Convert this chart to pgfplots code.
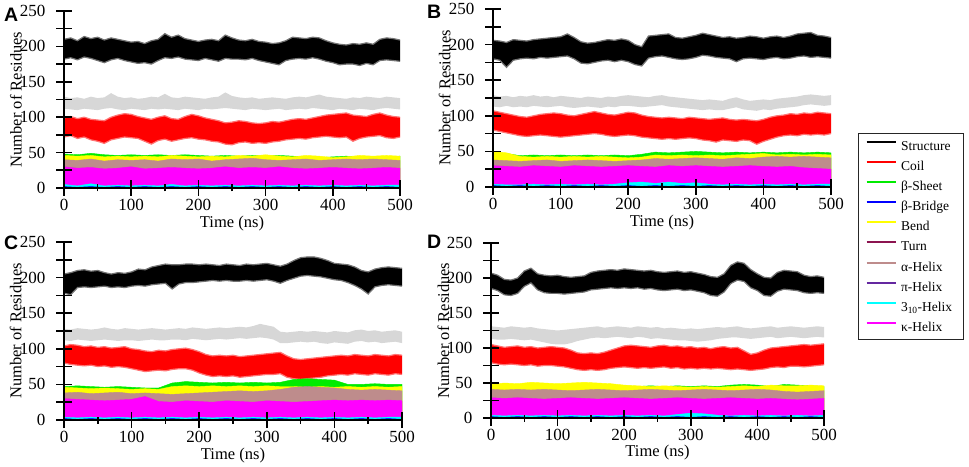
\documentclass[border=0pt]{standalone}
\usepackage{fontspec}
\setmainfont{Liberation Serif}
\newfontfamily\sansb{Liberation Sans}
\usepackage{pgfplots}
\usepackage{pgfplotstable}
\usepgfplotslibrary{fillbetween}
\pgfplotsset{compat=1.18}

\definecolor{colSheet}{RGB}{0,235,0}
\definecolor{colBend}{RGB}{255,255,0}
\definecolor{colTurn}{RGB}{140,20,80}
\definecolor{colAlpha}{RGB}{190,140,140}
\definecolor{colPi}{RGB}{100,40,160}
\definecolor{colCyan}{RGB}{0,255,255}
\definecolor{colKappa}{RGB}{255,0,255}
\definecolor{colGray}{RGB}{215,215,215}
\definecolor{colBlue}{RGB}{0,0,255}
\definecolor{colRed}{RGB}{255,0,0}

% big series: t, structure hi/lo, gray hi/lo, coil hi/lo
\pgfplotstableread{
t sh sl gh gl ch cl
0 210 182 129 112 99 72
10 212 184 127 111 101 74
20 208 181 128 110 98 70
30 214 185 126 112 100 72
40 211 183 129 111 97 68
50 213 180 127 110 96 66
60 209 177 128 112 95 63
70 212 181 134 113 100 68
80 210 183 129 111 103 70
90 208 180 127 110 105 72
100 206 178 128 112 104 71
110 207 176 126 111 101 70
120 204 177 127 110 99 66
130 208 175 129 112 97 62
140 210 180 128 111 100 67
150 218 184 133 112 102 69
160 213 183 128 111 98 66
170 216 185 127 110 97 68
180 211 182 129 112 101 70
190 209 181 128 111 104 71
200 207 180 127 110 102 69
210 209 183 126 112 99 68
220 210 181 128 111 97 66
230 208 179 129 112 95 65
240 216 183 135 113 92 62
250 212 182 130 112 93 61
260 209 182 128 111 95 64
270 208 181 127 110 94 65
280 210 183 128 112 92 63
290 207 180 126 111 91 64
300 206 178 127 110 92 63
310 204 176 128 111 94 65
320 205 174 127 112 93 66
330 208 180 126 110 95 68
340 213 182 128 111 97 69
350 212 183 129 112 98 70
360 211 182 128 111 97 69
370 213 184 130 113 99 71
380 212 182 132 112 101 72
390 208 179 129 111 103 73
400 205 177 128 110 104 72
410 203 174 127 112 105 71
420 202 175 126 111 106 72
430 204 175 128 110 103 66
440 203 173 127 112 102 70
450 205 176 129 111 101 72
460 203 174 128 110 104 73
470 210 180 127 112 106 74
480 212 181 129 113 103 71
490 211 180 128 112 101 70
500 209 179 127 111 100 72
}\tAbig
\pgfplotstableread{
t sheet bend ahel kap cyn brg
0 48 46 40 30 5 2
20 47 45 39 28 3 1
40 49 46 41 29 6 2
60 47 44 38 27 3 1
80 46 45 40 28 4 2
100 47 44 39 30 3 1
120 46 45 40 27 4 2
140 47 44 38 28 3 1
160 46 46 41 29 5 2
180 47 45 40 28 3 1
200 46 44 41 27 4 2
220 45 45 38 28 3 1
240 46 44 40 30 4 2
260 45 46 41 28 3 1
280 46 45 42 29 4 2
300 45 47 40 28 3 1
320 46 45 39 30 4 2
340 45 44 40 28 3 1
360 44 46 41 27 4 2
380 43 45 39 28 3 1
400 44 43 40 29 4 2
420 45 44 41 28 3 1
440 44 46 40 27 4 2
460 43 45 41 28 3 1
480 44 46 40 29 4 2
500 45 45 39 28 4 1
}\tAlow

\pgfplotstableread{
t sh sl gh gl ch cl
0 206 180 129 113 107 80
10 205 178 127 112 105 78
20 203 168 128 114 103 76
30 207 178 126 112 101 74
40 206 180 128 113 99 72
50 205 181 127 112 98 71
60 207 180 129 114 100 72
70 208 182 127 113 102 73
80 209 181 128 112 103 72
90 210 182 126 113 104 71
100 211 183 128 114 103 70
110 215 184 127 112 101 71
120 210 180 126 111 100 72
130 204 174 125 112 102 73
140 202 173 127 113 104 74
150 203 175 126 112 106 75
160 205 177 125 111 104 74
170 207 178 127 113 102 72
180 206 176 126 112 101 71
190 208 178 128 114 103 72
200 206 176 129 114 105 73
210 200 172 128 113 104 72
220 197 170 127 112 101 70
230 212 181 126 113 99 69
240 213 183 128 114 98 68
250 214 184 129 115 97 67
260 215 182 127 113 98 68
270 210 180 126 112 97 67
280 209 179 125 111 96 68
290 211 180 124 110 98 69
300 213 182 123 109 97 68
310 216 185 122 108 96 66
320 214 184 123 109 95 65
330 212 182 122 108 96 63
340 210 181 121 108 97 66
350 211 180 124 110 95 65
360 209 176 126 112 94 64
370 210 180 123 109 95 66
380 212 181 121 108 94 65
390 211 180 122 107 93 60
400 209 179 123 109 95 64
410 211 181 122 108 98 67
420 212 182 124 110 100 70
430 210 180 125 111 101 72
440 212 181 126 112 103 73
450 215 183 127 113 102 72
460 216 184 129 115 104 74
470 217 182 130 116 103 73
480 213 183 129 115 105 74
490 212 182 128 114 104 73
500 210 181 129 115 103 75
}\tBbig
\pgfplotstableread{
t sheet bend ahel kap cyn brg
0 48 50 38 30 4 2
20 47 48 37 29 3 1
40 44 43 36 28 3 2
60 45 42 37 30 4 1
80 44 43 38 29 3 2
100 45 42 36 28 4 1
120 44 43 37 30 3 2
140 45 42 38 29 4 1
160 44 43 37 28 3 2
180 45 42 36 29 4 1
200 44 41 37 30 6 2
220 46 42 38 29 7 1
240 49 45 40 28 5 2
260 48 44 39 30 7 1
280 49 45 40 29 5 2
300 50 44 41 30 6 1
320 49 45 40 29 4 2
340 48 44 39 28 3 1
360 49 45 41 29 4 2
380 48 46 40 30 3 1
400 49 47 42 29 4 2
420 48 45 43 28 3 1
440 49 46 42 29 4 2
460 48 45 43 27 3 1
480 49 46 42 26 4 2
500 48 45 41 25 4 1
}\tBlow

\pgfplotstableread{
t sh sl gh gl ch cl
0 205 178 128 112 104 80
10 207 176 127 111 106 78
20 210 186 129 113 105 77
30 211 187 128 112 103 76
40 209 186 127 111 104 77
50 210 187 128 112 102 75
60 207 188 130 113 103 76
70 205 186 128 112 101 74
80 207 187 127 111 102 75
90 206 186 129 112 103 74
100 208 188 128 112 100 72
110 212 189 127 111 99 70
120 211 188 128 112 97 68
130 215 190 129 113 96 69
140 217 191 128 112 98 70
150 219 192 127 112 97 69
160 218 184 128 113 99 71
170 218 191 129 113 100 72
180 219 193 128 112 101 72
190 219 193 130 114 99 70
200 218 194 129 113 96 66
210 219 195 128 112 92 63
220 218 196 129 113 90 61
230 217 195 130 114 91 62
240 219 196 129 113 90 61
250 218 195 130 114 91 62
260 217 195 131 115 89 60
270 219 196 130 114 90 61
280 218 195 132 115 91 62
290 219 196 135 116 92 63
300 220 197 133 115 93 64
310 218 195 131 113 94 64
320 216 192 124 108 95 65
330 219 196 123 108 90 60
340 224 199 124 109 86 58
350 228 202 125 110 85 57
360 229 203 124 109 86 58
370 229 202 125 110 87 59
380 227 201 124 108 88 60
390 224 199 123 107 89 62
400 220 197 125 109 90 63
410 219 196 124 108 91 64
420 218 193 123 107 90 63
430 215 189 126 110 92 65
440 210 184 127 111 91 64
450 208 177 125 109 90 63
460 212 187 126 110 92 65
470 214 189 124 108 91 64
480 215 190 125 109 90 63
490 214 189 126 110 92 65
500 213 188 124 108 91 64
}\tCbig
\pgfplotstableread{
t sheet bend ahel kap cyn brg
0 47 46 38 30 4 2
20 48 45 39 29 3 1
40 47 44 37 28 4 2
60 46 45 38 27 3 1
80 47 44 39 28 4 2
100 46 43 37 29 3 1
120 45 44 38 33 4 2
140 45 43 37 26 3 1
160 52 47 36 25 4 2
180 54 48 37 27 3 1
200 53 47 38 26 4 2
220 52 48 39 25 3 1
240 53 47 40 27 4 2
260 52 48 41 26 3 1
280 53 47 40 25 4 2
300 52 48 41 27 3 1
320 53 47 43 26 4 2
340 57 47 46 25 3 1
360 58 46 47 26 4 2
380 57 47 46 27 3 1
400 56 46 45 28 4 2
420 50 47 43 27 3 1
440 50 46 42 28 4 2
460 51 47 43 27 3 1
480 50 46 42 28 4 2
500 50 47 41 27 4 1
}\tClow

\pgfplotstableread{
t sh sl gh gl ch cl
0 207 185 131 113 105 79
10 204 182 130 112 103 77
20 198 176 129 112 101 76
30 197 175 131 113 102 77
40 200 178 130 112 103 76
50 210 188 129 111 101 75
60 214 193 130 112 102 76
70 206 183 128 110 100 74
80 204 179 127 108 101 75
90 203 178 126 106 102 75
100 204 178 125 105 101 74
110 202 177 126 105 100 73
120 201 178 127 107 97 71
130 202 179 128 110 93 69
140 203 180 129 112 92 68
150 208 183 130 114 93 69
160 210 184 131 115 92 68
170 211 185 129 114 94 69
180 212 186 130 115 97 71
190 211 185 131 116 100 72
200 213 186 130 115 103 73
210 212 185 129 114 104 72
220 211 186 131 116 103 71
230 210 184 130 115 102 72
240 211 185 129 113 101 71
250 209 183 130 114 103 72
260 208 182 128 113 104 73
270 209 183 129 112 102 71
280 210 184 128 111 103 72
290 208 182 127 111 101 70
300 209 183 128 110 102 71
310 207 181 127 109 100 70
320 205 179 128 110 101 71
330 202 175 129 111 99 70
340 201 174 130 113 101 71
350 206 180 129 114 102 70
360 218 192 130 115 100 69
370 223 197 131 115 101 70
380 221 195 129 114 96 69
390 212 186 128 113 91 68
400 206 182 129 114 93 69
410 201 175 130 115 97 70
420 200 174 131 116 100 72
430 208 181 129 114 101 73
440 211 184 130 115 102 72
450 210 183 131 116 103 74
460 209 182 130 115 104 74
470 204 179 129 114 105 73
480 202 178 130 115 104 74
490 203 179 131 116 105 75
500 201 178 130 115 106 76
}\tDbig
\pgfplotstableread{
t sheet bend ahel kap cyn brg
0 47 48 41 29 4 2
20 45 50 40 28 3 1
40 46 49 41 29 4 2
60 45 51 40 28 3 1
80 44 50 41 27 4 2
100 45 49 40 28 3 1
120 44 50 39 29 4 2
140 45 51 40 28 3 1
160 44 50 41 27 4 2
180 45 49 40 28 3 1
200 46 47 39 29 4 2
220 45 46 40 28 3 1
240 46 45 41 27 4 2
260 45 46 40 28 3 1
280 46 45 39 29 5 2
300 45 44 40 28 7 1
320 46 45 41 27 6 2
340 45 44 40 28 4 1
360 47 45 39 29 3 2
380 48 46 40 28 4 1
400 47 45 41 27 3 2
420 45 47 40 28 4 1
440 48 46 38 27 3 2
460 47 46 37 26 4 1
480 46 47 38 27 3 2
500 45 46 39 28 4 1
}\tDlow

\newcommand{\drawpanel}[2]{%
\addplot[name path=sh, black!55, line width=1.2pt, forget plot] table[x=t,y=sh]{#1};
\addplot[name path=sl, black!55, line width=1.2pt, forget plot] table[x=t,y=sl]{#1};
\addplot[black, forget plot] fill between[of=sh and sl];
\addplot[name path=gh, draw=none, forget plot] table[x=t,y=gh]{#1};
\addplot[name path=gl, draw=none, forget plot] table[x=t,y=gl]{#1};
\addplot[colGray, forget plot] fill between[of=gh and gl];
\addplot[name path=ch, red!55, line width=1.2pt, forget plot] table[x=t,y=ch]{#1};
\addplot[name path=cl, red!55, line width=1.2pt, forget plot] table[x=t,y=cl]{#1};
\addplot[colRed, forget plot] fill between[of=ch and cl];
\addplot[fill=colSheet, draw=colSheet, forget plot] table[x=t,y=sheet]{#2} \closedcycle;
\addplot[fill=colBend, draw=colBend, forget plot] table[x=t,y=bend]{#2} \closedcycle;
\addplot[fill=colAlpha, draw=colAlpha, forget plot] table[x=t,y=ahel]{#2} \closedcycle;
\addplot[fill=colKappa, draw=colKappa, forget plot] table[x=t,y=kap]{#2} \closedcycle;
\addplot[fill=colCyan, draw=colCyan, forget plot] table[x=t,y=cyn]{#2} \closedcycle;
\addplot[fill=colBlue, draw=colBlue, forget plot] table[x=t,y=brg]{#2} \closedcycle;
}

\pgfplotsset{
  panel/.style={
    scale only axis, xmin=0, xmax=500, ymin=0, ymax=250,
    axis lines=left, axis line style={-, line width=1.6pt},
    axis on top,
    xtick={0,100,...,500}, minor xtick={50,150,...,450},
    ytick={0,25,...,250}, yticklabels={0,,50,,100,,150,,200,,250},
    tick align=center, major tick length=16pt, minor tick length=7pt,
    every tick/.append style={black, line width=1.6pt},
    tick label style={font=\fontsize{17}{18}\selectfont},
    yticklabel style={xshift=-7pt},
    /pgf/number format/assume math mode=true,
    xlabel={Time (ns)}, ylabel={Number of Residues},
    label style={font=\fontsize{16.5}{17}\selectfont},
    xlabel style={at={(axis description cs:0.5,-0.2)}, anchor=center},
    ylabel style={at={(axis description cs:-0.143,0.5)}, anchor=center},
  }
}

\begin{document}
\begin{tikzpicture}

\begin{axis}[panel, at={(64pt,278pt)}, anchor=south west, width=336pt, height=177pt]
\drawpanel{\tAbig}{\tAlow}
\end{axis}

\begin{axis}[panel, at={(493pt,279pt)}, anchor=south west, width=338pt, height=178pt,
  legend image code/.code={\draw[#1, line width=2pt] (0pt,4pt) -- (29pt,4pt);},
  legend cell align=left,
  legend style={at={(1.0799,0.3034)}, anchor=north west, draw=black!85, line width=1pt,
    fill=white, font=\fontsize{13.5}{14}\selectfont, inner xsep=7pt, inner ysep=6pt,
    row sep=7.1pt, nodes={text height=11pt, text depth=2pt, inner ysep=0pt, inner xsep=4.5pt}}]
\drawpanel{\tBbig}{\tBlow}
\addlegendimage{black}\addlegendentry{Structure}
\addlegendimage{colRed}\addlegendentry{Coil}
\addlegendimage{colSheet}\addlegendentry{β-Sheet}
\addlegendimage{colBlue}\addlegendentry{β-Bridge}
\addlegendimage{colBend}\addlegendentry{Bend}
\addlegendimage{colTurn}\addlegendentry{Turn}
\addlegendimage{colAlpha}\addlegendentry{α-Helix}
\addlegendimage{colPi}\addlegendentry{π-Helix}
\addlegendimage{colCyan}\addlegendentry{3\textsubscript{10}-Helix}
\addlegendimage{colKappa}\addlegendentry{κ-Helix}
\end{axis}

\begin{axis}[panel, at={(64pt,46pt)}, anchor=south west, width=338pt, height=178pt]
\drawpanel{\tCbig}{\tClow}
\end{axis}

\begin{axis}[panel, at={(491pt,48pt)}, anchor=south west, width=333pt, height=175pt]
\drawpanel{\tDbig}{\tDlow}
\end{axis}

\begin{scope}[every node/.style={anchor=west, inner sep=0pt, font=\sansb\bfseries\fontsize{19.5}{20}\selectfont}]
\node at (4pt,451pt) {A};
\node at (427pt,454pt) {B};
\node at (4pt,223pt) {C};
\node at (427pt,224pt) {D};
\end{scope}
\pgfresetboundingbox
\useasboundingbox (0,0) rectangle (969pt,466pt);
\end{tikzpicture}
\end{document}
